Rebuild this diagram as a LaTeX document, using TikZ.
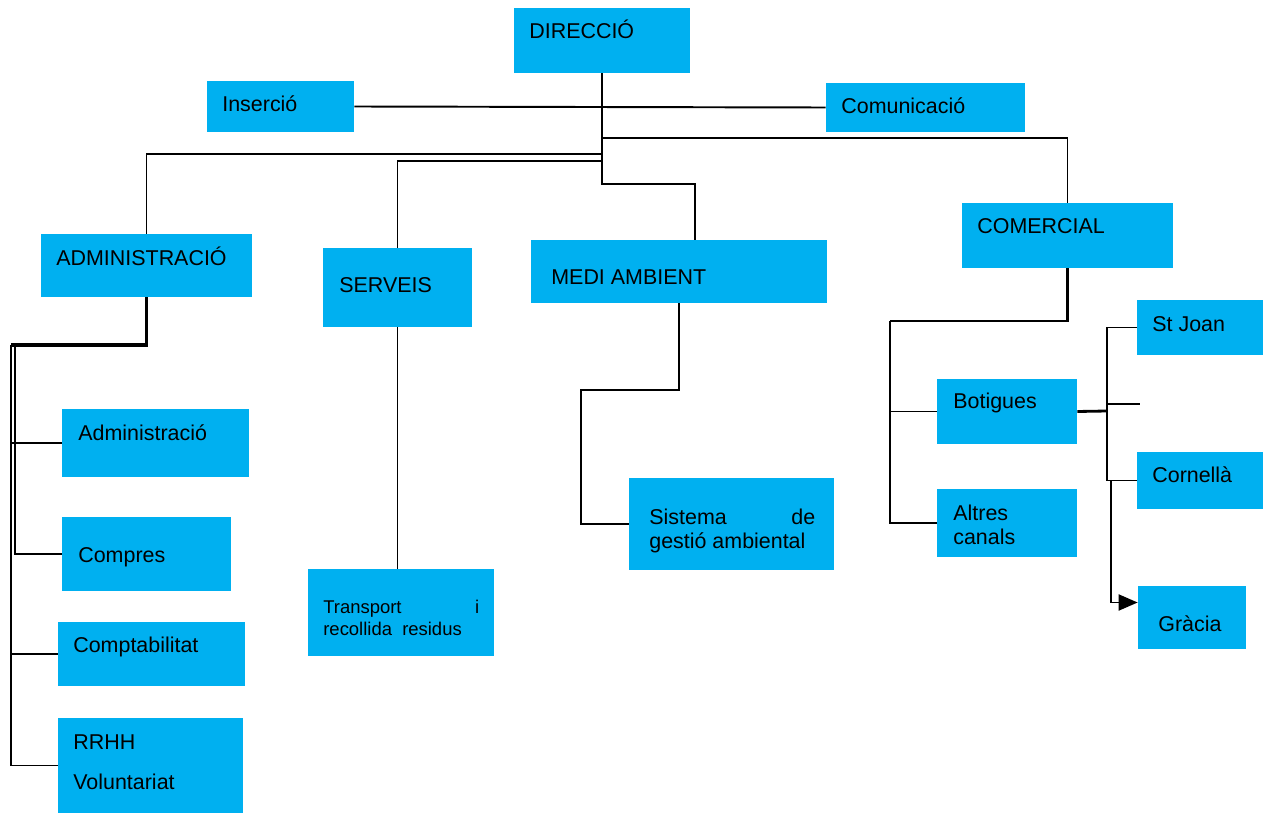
\documentclass[tikz,border=0pt]{standalone}
\usepackage{fontspec}
\setmainfont{Liberation Sans}
\usepackage{xcolor}
\usepackage{tikz}
\usetikzlibrary{calc,fit,arrows.meta}

\definecolor{boxblue}{HTML}{00B0F0}
\tikzset{
  box/.style={fill=boxblue, draw=none, inner sep=0pt},
  lbl/.style={anchor=base west, inner sep=0pt, font=\fontsize{12.2}{14}\selectfont},
  smalllbl/.style={lbl, font=\fontsize{10.5}{12}\selectfont},
  conn/.style={draw=black, line width=1.1pt},
}

\begin{document}
\begin{tikzpicture}[x=0.02cm, y=-0.02cm]
            \useasboundingbox (0,0) rectangle (1272,814);

            %%% BOXES %%%
            \node[box, fit={(514,8) (690,73)}] (dir) {};
            \node[box, fit={(207,81) (354,132)}] (ins) {};
            \node[box, fit={(826,83) (1025,132)}] (comu) {};
            \node[box, fit={(41,234) (252,297)}] (adm) {};
            \node[box, fit={(323,248) (472,327)}] (serv) {};
            \node[box, fit={(531,240) (827,303)}] (medi) {};
            \node[box, fit={(962,203) (1173,268)}] (com) {};
            \node[box, fit={(62,409) (249,477)}] (adma) {};
            \node[box, fit={(62,517) (231,591)}] (compr) {};
            \node[box, fit={(58,622) (245,686)}] (compt) {};
            \node[box, fit={(58,718) (243,813)}] (rrhh) {};
            \node[box, fit={(308,569) (494,656)}] (transp) {};
            \node[box, fit={(629,478) (834,570)}] (sga) {};
            \node[box, fit={(937,379) (1077,444)}] (bot) {};
            \node[box, fit={(937,489) (1077,557)}] (alt) {};
            \node[box, fit={(1137,300) (1263,355)}] (sj) {};
            \node[box, fit={(1137,452) (1263,509)}] (corn) {};
            \node[box, fit={(1138,586) (1246,649)}] (grac) {};

            %%% LABELS %%%
            \node[lbl] (dir-t) at (529,39) {DIRECCIÓ};
            \node[lbl] (ins-t) at (222,112) {Inserció};
            \node[lbl] (comu-t) at (841,114) {Comunicació};
            \node[lbl] (adm-t) at (56,266) {ADMINISTRACIÓ};
            \node[lbl] (serv-t) at (339,293) {SERVEIS};
            \node[lbl] (medi-t) at (551,285) {MEDI AMBIENT};
            \node[lbl] (com-t) at (977,234) {COMERCIAL};
            \node[lbl] (adma-t) at (78,440) {Administració};
            \node[lbl] (compr-t) at (78,562) {Compres};
            \node[lbl] (compt-t) at (73,652) {Comptabilitat};
            \node[lbl] (rrhh-t) at (73,749) {RRHH};
            \node[lbl] (vol-t) at (73,789) {Voluntariat};
            \node[smalllbl, text width=3.12cm] (transp-t) at (323,613) {Transport\hfill i};
            \node[smalllbl] (resid-t) at (323,635) {recollida\ \ residus};
            \node[lbl, text width=3.32cm] (sga-t) at (649,524) {Sistema\hfill de};
            \node[lbl] (amb-t) at (649,548) {gestió ambiental};
            \node[lbl] (bot-t) at (953,409) {Botigues};
            \node[lbl] (alt-t) at (953,520) {Altres};
            \node[lbl] (can-t) at (953,544) {canals};
            \node[lbl] (sj-t) at (1152,332) {St Joan};
            \node[lbl] (corn-t) at (1152,482) {Cornellà};
            \node[lbl] (grac-t) at (1158,631) {Gràcia};

            %%% COORDINATES %%%
            \coordinate (admtrunk) at (11,345);
            \coordinate (comtrunk) at (890,321);
            \coordinate (botrunk) at (1107,411);
            \coordinate (stub) at (1140,404);

            %%% LINES FROM DIRECCIO %%%
            \draw[conn] (ins.east) -- (comu.west);
            \draw[conn] (dir.south) -- ++(0,81) -| (adm.north);
            \draw[conn] (dir.south) -- ++(0,88) -| (serv.north);
            \draw[conn] (dir.south) -- ++(0,111) -| ($(medi.north)+(16,0)$);
            \draw[conn] (dir.south) -- ++(0,65) -| (com.north);

            %%% ADMINISTRACIO %%%
            \draw[conn, line width=2pt] (adm.south) |- (admtrunk);
            \draw[conn] (admtrunk) |- (rrhh.west);
            \draw[conn] ($(admtrunk)+(4,0)$) |- (compr.west);
            \draw[conn] (adma.west) -- (adma.west -| admtrunk);
            \draw[conn] (compt.west) -- (compt.west -| admtrunk);

            %%% SERVEIS AND MEDI AMBIENT %%%
            \draw[conn] (serv.south) -- (serv.south |- transp.north);
            \draw[conn] (medi.south) |- (581,390) |- (sga.west);

            %%% COMERCIAL %%%
            \draw[conn, line width=1.6pt] (com.south) |- (comtrunk);
            \draw[conn] (comtrunk) |- (alt.west);
            \draw[conn] (bot.west) -- (bot.west -| comtrunk);
            \draw[conn, line width=1.6pt] (bot.east) -- (botrunk);
            \draw[conn] (sj.west) -| (botrunk) |- (corn.west);
            \draw[conn] (botrunk |- stub) -- (stub);
            \draw[conn, -{Triangle[length=0.38cm, width=0.32cm]}] ($(botrunk |- corn.west)+(4,0)$) |- ($(grac.west)+(0,-15)$);
        \end{tikzpicture}
\end{document}
